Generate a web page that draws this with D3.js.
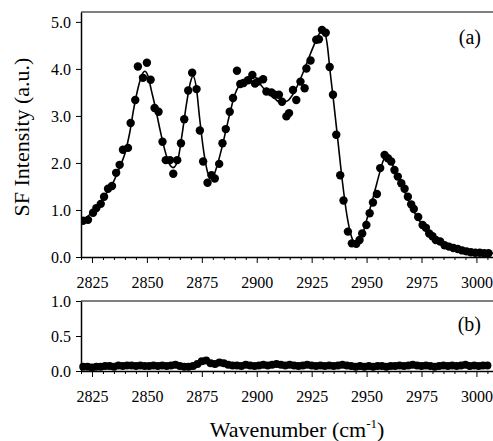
<!DOCTYPE html>
<html>
<head>
<meta charset="utf-8">
<script src="https://cdn.jsdelivr.net/npm/d3@7/dist/d3.min.js"></script>
<style>
  html, body { margin: 0; padding: 0; background: #fff; }
  svg { display: block; }
  text { font-family: "Liberation Serif", "Times New Roman", serif; fill: #000; }
  .axis path, .axis line { stroke: #000; }
</style>
</head>
<body>
<svg id="chart" width="493" height="441"></svg>
<script>
(function () {
  "use strict";

  // [wavenumber, SF intensity] for the measured spectrum, panel (a)
  const panelAPoints = [
    [2820.9, 0.77], [2823.2, 0.79], [2825.5, 0.94], [2827.0, 1.04], [2829.0, 1.13],
    [2830.5, 1.28], [2832.3, 1.45], [2834.1, 1.51], [2836.0, 1.79], [2837.6, 1.96],
    [2839.1, 2.28], [2841.4, 2.32], [2842.6, 2.85], [2844.7, 3.34], [2845.9, 4.05],
    [2848.2, 3.81], [2850.0, 4.13], [2851.7, 3.77], [2853.5, 3.17], [2855.3, 3.09],
    [2857.1, 2.45], [2858.6, 2.06], [2860.5, 2.06], [2862.0, 1.77], [2863.8, 2.06],
    [2865.5, 2.42], [2867.0, 2.93], [2868.8, 3.54], [2870.6, 3.92], [2872.6, 3.57],
    [2874.1, 2.69], [2875.6, 2.03], [2877.6, 1.58], [2879.4, 1.74], [2880.9, 1.67],
    [2882.9, 1.98], [2884.4, 2.42], [2885.9, 2.72], [2887.7, 3.09], [2889.2, 3.38],
    [2891.0, 3.96], [2892.5, 3.68], [2894.0, 3.70], [2896.0, 3.76], [2898.0, 3.87],
    [2899.2, 3.69], [2900.6, 3.73], [2902.9, 3.78], [2904.4, 3.52], [2906.7, 3.50],
    [2908.2, 3.45], [2910.1, 3.45], [2911.5, 3.30], [2913.5, 2.99], [2914.7, 3.06],
    [2916.5, 3.55], [2918.0, 3.34], [2919.9, 3.73], [2921.8, 3.59], [2922.6, 4.01],
    [2924.5, 4.18], [2927.1, 4.62], [2928.3, 4.63], [2929.7, 4.83], [2931.4, 4.77],
    [2933.2, 4.04], [2934.7, 3.45], [2936.2, 2.60], [2938.0, 1.74], [2939.5, 1.20],
    [2941.5, 0.54], [2943.3, 0.29], [2945.3, 0.28], [2946.8, 0.36], [2948.0, 0.50],
    [2949.9, 0.68], [2951.4, 0.93], [2952.9, 1.16], [2954.7, 1.34], [2956.2, 1.89],
    [2958.2, 2.17], [2959.7, 2.10], [2961.2, 2.03], [2962.7, 1.85], [2964.2, 1.71],
    [2965.8, 1.57], [2967.3, 1.45], [2968.8, 1.28], [2970.3, 1.12], [2971.5, 1.02],
    [2973.5, 0.85], [2975.5, 0.68], [2977.0, 0.62], [2978.5, 0.50], [2980.0, 0.44],
    [2981.5, 0.36], [2983.5, 0.33], [2985.5, 0.25], [2987.5, 0.22], [2989.5, 0.19],
    [2991.5, 0.17], [2993.5, 0.14], [2995.5, 0.12], [2997.5, 0.10], [2999.5, 0.09],
    [3001.5, 0.09], [3003.5, 0.08], [3005.5, 0.08]
  ];

  // fitted curve through panel (a)
  const panelAFit = [
    [2821, 0.78], [2825, 0.95], [2830, 1.25], [2835, 1.62], [2838, 1.95], [2840, 2.2],
    [2842, 2.6], [2844, 3.15], [2846, 3.6], [2848, 3.9], [2849, 3.95], [2850.5, 3.85],
    [2852, 3.55], [2854, 3.15], [2856, 2.7], [2858, 2.3], [2860, 2.0], [2862, 1.9],
    [2864, 2.05], [2866, 2.6], [2868, 3.25], [2870, 3.75], [2871, 3.85], [2872.5, 3.6],
    [2874, 2.95], [2876, 2.2], [2878, 1.75], [2879, 1.7], [2880.5, 1.75], [2882, 1.95],
    [2884, 2.3], [2886, 2.7], [2888, 3.1], [2890, 3.45], [2892, 3.65], [2895, 3.78],
    [2898, 3.85], [2900, 3.8], [2902, 3.65], [2905, 3.5], [2908, 3.38], [2911, 3.28],
    [2914, 3.32], [2917, 3.5], [2920, 3.8], [2923, 4.15], [2926, 4.5], [2928.5, 4.75],
    [2930.5, 4.82], [2932, 4.55], [2933.5, 3.9], [2935, 3.3], [2937, 2.45], [2939, 1.6],
    [2941, 0.9], [2943, 0.45], [2945, 0.28], [2946.5, 0.3], [2948, 0.45], [2950, 0.78],
    [2952, 1.1], [2954, 1.45], [2956, 1.8], [2958, 2.08], [2959.5, 2.1], [2961, 2.02],
    [2964, 1.75], [2967, 1.42], [2970, 1.1], [2973, 0.85], [2976, 0.65], [2980, 0.44],
    [2985, 0.28], [2990, 0.19], [2995, 0.13], [3000, 0.1], [3008, 0.08]
  ];

  // panel (b): near-zero signal
  const panelBPoints = [
    [2821, 0.06], [2823, 0.06], [2825, 0.05], [2827, 0.06], [2829, 0.06], [2831, 0.07],
    [2833, 0.07], [2835, 0.06], [2837, 0.08], [2839, 0.07], [2841, 0.08], [2843, 0.08],
    [2845, 0.07], [2847, 0.08], [2849, 0.07], [2851, 0.07], [2853, 0.08], [2855, 0.07],
    [2857, 0.08], [2859, 0.07], [2861, 0.08], [2863, 0.09], [2865, 0.07], [2867, 0.06],
    [2869, 0.06], [2871, 0.07], [2873, 0.10], [2875, 0.14], [2877, 0.15], [2879, 0.11],
    [2881, 0.10], [2883, 0.12], [2885, 0.11], [2887, 0.09], [2889, 0.08], [2891, 0.08],
    [2893, 0.07], [2895, 0.09], [2897, 0.08], [2899, 0.07], [2901, 0.08], [2903, 0.09],
    [2905, 0.08], [2907, 0.09], [2909, 0.10], [2911, 0.09], [2913, 0.08], [2915, 0.09],
    [2917, 0.08], [2919, 0.07], [2921, 0.08], [2923, 0.09], [2925, 0.08], [2927, 0.07],
    [2929, 0.08], [2931, 0.07], [2933, 0.08], [2935, 0.07], [2937, 0.08], [2939, 0.09],
    [2941, 0.08], [2943, 0.07], [2945, 0.06], [2947, 0.07], [2949, 0.06], [2951, 0.07],
    [2953, 0.06], [2955, 0.07], [2957, 0.07], [2959, 0.06], [2961, 0.07], [2963, 0.07],
    [2965, 0.08], [2967, 0.07], [2969, 0.08], [2971, 0.09], [2973, 0.08], [2975, 0.07],
    [2977, 0.08], [2979, 0.07], [2981, 0.06], [2983, 0.07], [2985, 0.08], [2987, 0.07],
    [2989, 0.08], [2991, 0.07], [2993, 0.08], [2995, 0.09], [2997, 0.07], [2999, 0.08],
    [3001, 0.07], [3003, 0.08], [3005, 0.08]
  ];

  const xMajorTicks = [2825, 2850, 2875, 2900, 2925, 2950, 2975, 3000];
  const xMinorTicks = d3.range(2820, 3010, 5).filter((v) => !xMajorTicks.includes(v));
  const yTicksA = [0, 1, 2, 3, 4, 5];
  const yTicksB = [0, 0.5, 1];

  const svg = d3.select("#chart");
  const left = 81, right = 494;

  const x = d3.scaleLinear().domain([2820, 3008]).range([left, right]);

  const panels = [
    { top: 12, bottom: 257, ymax: 5.21, ticks: yTicksA, label: "(a)", labelY: 44 },
    { top: 301, bottom: 371, ymax: 1, ticks: yTicksB, label: "(b)", labelY: 331 }
  ];

  panels.forEach((p) => {
    p.y = d3.scaleLinear().domain([0, p.ymax]).range([p.bottom, p.top]);
  });

  function drawFrame(p) {
    // top border line
    svg.append("line")
      .attr("x1", left).attr("x2", right)
      .attr("y1", p.top).attr("y2", p.top)
      .attr("stroke", "#000").attr("stroke-width", 1.2);

    const yAxis = svg.append("g")
      .attr("class", "axis")
      .attr("transform", `translate(${left},0)`)
      .call(d3.axisLeft(p.y).tickValues(p.ticks).tickFormat(d3.format(".1f"))
        .tickSize(5).tickPadding(5).tickSizeOuter(0));
    yAxis.select(".domain").attr("stroke-width", 1.5);
    yAxis.selectAll("text").attr("font-size", 16).attr("font-family", "Liberation Serif");

    const xMinor = svg.append("g")
      .attr("class", "axis")
      .attr("transform", `translate(0,${p.bottom})`)
      .call(d3.axisBottom(x).tickValues(xMinorTicks).tickSize(3).tickFormat("").tickSizeOuter(0));
    xMinor.select(".domain").remove();

    const xAxis = svg.append("g")
      .attr("class", "axis")
      .attr("transform", `translate(0,${p.bottom})`)
      .call(d3.axisBottom(x).tickValues(xMajorTicks).tickFormat(d3.format("d"))
        .tickSize(6).tickPadding(14).tickSizeOuter(0));
    xAxis.select(".domain").attr("stroke-width", 1.5);
    xAxis.selectAll("text").attr("font-size", 16).attr("font-family", "Liberation Serif");

    svg.append("text")
      .attr("x", 481).attr("y", p.labelY)
      .attr("text-anchor", "end")
      .attr("font-size", 20)
      .text(p.label);
  }

  panels.forEach(drawFrame);

  const pa = panels[0], pb = panels[1];

  svg.append("clipPath").attr("id", "clipA")
    .append("rect").attr("x", left).attr("y", pa.top)
    .attr("width", right - left).attr("height", pa.bottom - pa.top);

  const gA = svg.append("g").attr("clip-path", "url(#clipA)");

  gA.append("path")
    .datum(panelAFit)
    .attr("fill", "none")
    .attr("stroke", "#000")
    .attr("stroke-width", 1.6)
    .attr("d", d3.line()
      .x((d) => x(d[0]))
      .y((d) => pa.y(d[1]))
      .curve(d3.curveMonotoneX));

  gA.selectAll("circle")
    .data(panelAPoints)
    .join("circle")
    .attr("cx", (d) => x(d[0]))
    .attr("cy", (d) => pa.y(d[1]))
    .attr("r", 4.2)
    .attr("fill", "#000");

  svg.append("g")
    .selectAll("circle")
    .data(panelBPoints)
    .join("circle")
    .attr("cx", (d) => x(d[0]))
    .attr("cy", (d) => pb.y(d[1]))
    .attr("r", 4)
    .attr("fill", "#000");

  // axis titles
  svg.append("text")
    .attr("transform", "translate(29,137) rotate(-90)")
    .attr("text-anchor", "middle")
    .attr("font-size", 22)
    .text("SF Intensity (a.u.)");

  const xt = svg.append("text")
    .attr("x", 297).attr("y", 437)
    .attr("text-anchor", "middle")
    .attr("font-size", 22);
  xt.append("tspan").text("Wavenumber (cm");
  xt.append("tspan").attr("font-size", 13).attr("dy", -9).text("-1");
  xt.append("tspan").attr("dy", 9).text(")");
})();
</script>
</body>
</html>
